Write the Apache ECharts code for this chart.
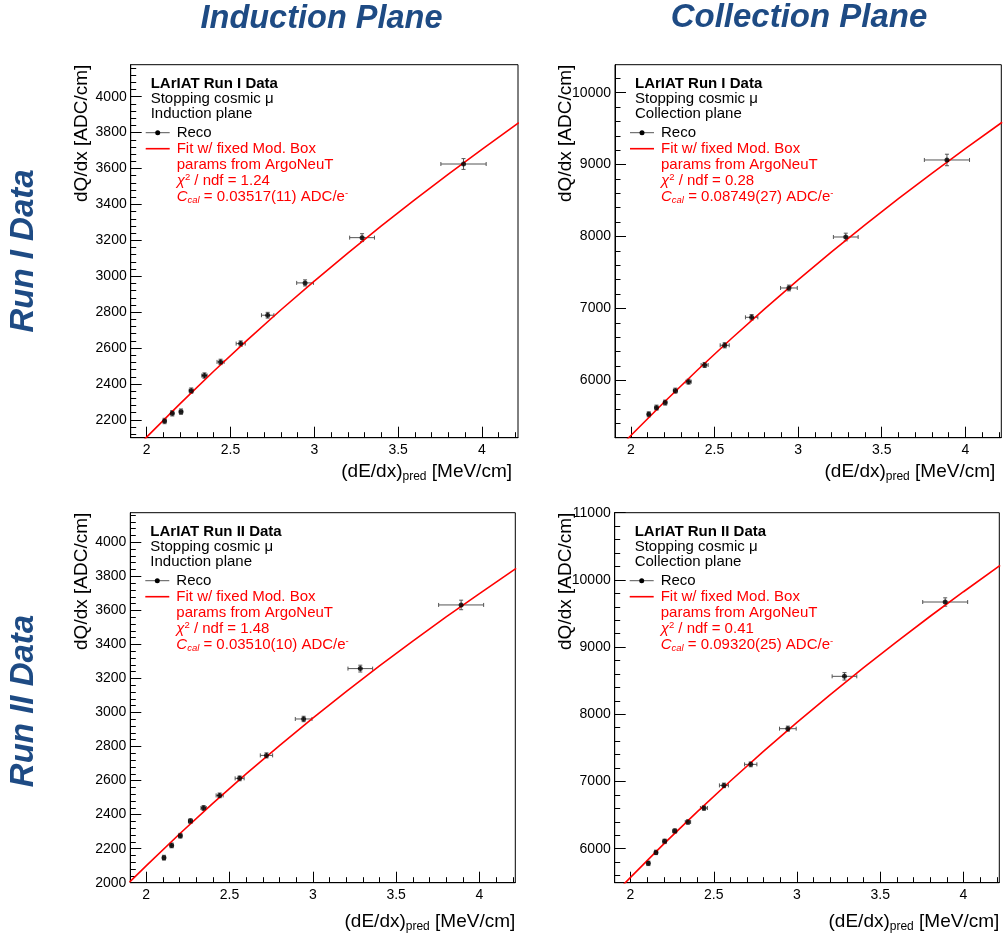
<!DOCTYPE html>
<html>
<head>
<meta charset="utf-8">
<script src="https://cdn.jsdelivr.net/npm/echarts@6/dist/echarts.min.js"></script>
<style>
html,body{margin:0;padding:0;background:#fff;}
#chart{width:1003px;height:940px;}
</style>
</head>
<body>
<div id="chart"></div>
<script>
// ---------------- DATA ----------------
const columnTitles = ['Induction Plane', 'Collection Plane'];
const rowTitles = ['Run I Data', 'Run II Data'];

// predicted dE/dx bin centres and horizontal errors (MeV/cm)
const dEdx    = [2.107, 2.153, 2.205, 2.266, 2.345, 2.441, 2.561, 2.722, 2.945, 3.285, 3.890];
const dEdxErr = [0.008, 0.009, 0.010, 0.012, 0.016, 0.021, 0.027, 0.037, 0.050, 0.074, 0.135];

// reconstructed dQ/dx (ADC/cm) and errors
const run1IndQ   = [2194, 2237, 2246, 2363, 2447, 2523, 2625, 2783, 2963, 3215, 3625];
const run1IndErr = [15, 15, 15, 15, 15, 15, 15, 16, 17, 22, 30];
const run1ColQ   = [5527, 5620, 5690, 5856, 5981, 6213, 6487, 6876, 7284, 7993, 9064];
const run1ColErr = [35, 35, 35, 35, 35, 35, 36, 38, 40, 53, 80];
const run2IndQ   = [2147, 2219, 2276, 2362, 2439, 2513, 2613, 2748, 2962, 3258, 3632];
const run2IndErr = [14, 14, 14, 14, 14, 14, 14, 15, 16, 20, 28];
const run2ColQ   = [5782, 5945, 6109, 6263, 6397, 6605, 6942, 7255, 7786, 8565, 9671];
const run2ColErr = [33, 33, 33, 33, 33, 33, 34, 36, 38, 55, 62];

// fit curves
const fitX       = [1.9, 2.0, 2.2, 2.4, 2.6, 2.8, 3.0, 3.2, 3.4, 3.6, 3.8, 4.0, 4.22];
const fitRun1Ind = [2007, 2104, 2291, 2471, 2644, 2812, 2973, 3129, 3281, 3427, 3569, 3707, 3855];
const fitRun1Col = [4993, 5233, 5699, 6147, 6578, 6994, 7396, 7785, 8161, 8526, 8879, 9223, 9589];
const fitRun2Ind = [2003, 2099, 2286, 2466, 2639, 2806, 2967, 3123, 3274, 3420, 3562, 3699, 3847];
const fitRun2Col = [5319, 5574, 6071, 6548, 7007, 7451, 7879, 8293, 8694, 9082, 9459, 9824, 10215];

// tick labels
const xTicks = [2, 2.5, 3, 3.5, 4];
const xMinorTicks = [2.0, 2.1, 2.2, 2.3, 2.4, 2.5, 2.6, 2.7, 2.8, 2.9, 3.0, 3.1, 3.2, 3.3, 3.4, 3.5, 3.6, 3.7, 3.8, 3.9, 4.0, 4.1, 4.2];
const yTicksRun1Ind = [2200, 2400, 2600, 2800, 3000, 3200, 3400, 3600, 3800, 4000];
const yTicksRun2Ind = [2000, 2200, 2400, 2600, 2800, 3000, 3200, 3400, 3600, 3800, 4000];
const yTicksRun1Col = [6000, 7000, 8000, 9000, 10000];
const yTicksRun2Col = [6000, 7000, 8000, 9000, 10000, 11000];

// legend texts
const runLabels = ['LArIAT Run I Data', 'LArIAT Run II Data'];
const planeLabels = ['Induction plane', 'Collection plane'];
const chi2Values = ['1.24', '0.28', '1.48', '0.41'];
const ccalValues = ['0.03517(11)', '0.08749(27)', '0.03510(10)', '0.09320(25)'];

// ---------------- LAYOUT / STYLE ----------------
const FONT = '"Liberation Sans", Arial, Helvetica, sans-serif';
const RED = '#ff0000';
const BLUE = '#1e4b84';

function minorList(min, max, step) {
  const out = [];
  for (let k = Math.ceil(min / step); k * step <= max; k++) out.push(Math.round(k * step * 1000) / 1000);
  return out;
}

const panels = [
  { grid: {left: 130.7, top: 64.7, width: 387.3, height: 373}, yr: [2101, 4178], yTicks: yTicksRun1Ind, yMinorStep: 40,
    q: run1IndQ, qe: run1IndErr, fit: fitRun1Ind, run: runLabels[0], plane: planeLabels[0], chi: chi2Values[0], ccal: ccalValues[0], xNamePad: [23, 6, 0, 0] },
  { grid: {left: 615, top: 64.7, width: 386.3, height: 373}, yr: [5202, 10389], yTicks: yTicksRun1Col, yMinorStep: 200,
    q: run1ColQ, qe: run1ColErr, fit: fitRun1Col, run: runLabels[0], plane: planeLabels[1], chi: chi2Values[1], ccal: ccalValues[1], xNamePad: [23, 6, 0, 0] },
  { grid: {left: 130.3, top: 512.7, width: 385, height: 370}, yr: [2000, 4174], yTicks: yTicksRun2Ind, yMinorStep: 40,
    q: run2IndQ, qe: run2IndErr, fit: fitRun2Ind, run: runLabels[1], plane: planeLabels[0], chi: chi2Values[2], ccal: ccalValues[2], xNamePad: [28, 0, 0, 0] },
  { grid: {left: 614.7, top: 512.7, width: 384.6, height: 370}, yr: [5494, 11000], yTicks: yTicksRun2Col, yMinorStep: 200,
    q: run2ColQ, qe: run2ColErr, fit: fitRun2Col, run: runLabels[1], plane: planeLabels[1], chi: chi2Values[3], ccal: ccalValues[3], xNamePad: [28, 0, 0, 0] }
];
const X_MIN = 1.905, X_MAX = 4.215;

const grids = [], xAxes = [], yAxes = [], series = [], graphics = [];

panels.forEach((p, i) => {
  grids.push(Object.assign({show: true, borderColor: '#000', borderWidth: 1, backgroundColor: 'transparent', containLabel: false, outerBoundsMode: 'none'}, p.grid));
});

// main axes
panels.forEach((p, i) => {
  xAxes.push({
    type: 'value', gridIndex: i, position: 'bottom', min: X_MIN, max: X_MAX,
    axisLine: {show: true, onZero: false, lineStyle: {color: '#000', width: 1}},
    axisTick: {show: true, inside: true, length: 11, customValues: xTicks, lineStyle: {color: '#000', width: 1}},
    axisLabel: {show: true, customValues: xTicks, margin: 5, fontSize: 14, fontFamily: FONT, color: '#000',
      formatter: v => String(Math.round(v * 10) / 10)},
    splitLine: {show: false},
    name: '{n|(dE/dx)}{s|pred}{n| [MeV/cm]}',
    nameLocation: 'end', nameGap: 0, nameMoveOverlap: false,
    nameTextStyle: {align: 'right', verticalAlign: 'top', padding: p.xNamePad, color: '#000',
      rich: {n: {fontSize: 19, lineHeight: 22, fontFamily: FONT, color: '#000'},
             s: {fontSize: 12, lineHeight: 12, verticalAlign: 'bottom', fontFamily: FONT, color: '#000'}}}
  });
  yAxes.push({
    type: 'value', gridIndex: i, position: 'left', min: p.yr[0], max: p.yr[1],
    axisLine: {show: true, onZero: false, lineStyle: {color: '#000', width: 1}},
    axisTick: {show: true, inside: true, length: 11, customValues: p.yTicks, lineStyle: {color: '#000', width: 1}},
    axisLabel: {show: true, customValues: p.yTicks, margin: 4, fontSize: 14, fontFamily: FONT, color: '#000',
      formatter: v => String(Math.round(v))},
    splitLine: {show: false},
    name: 'dQ/dx [ADC/cm]', nameLocation: 'end', nameGap: 0, nameRotate: 90, nameMoveOverlap: false,
    nameTextStyle: {fontSize: 19, lineHeight: 20, fontFamily: FONT, color: '#000', align: 'right', verticalAlign: 'bottom', padding: [0, 0, 39, 0]}
  });
});
// minor-tick overlay axes
panels.forEach((p, i) => {
  xAxes.push({
    type: 'value', gridIndex: i, position: 'bottom', min: X_MIN, max: X_MAX,
    axisLine: {show: false}, axisLabel: {show: false}, splitLine: {show: false},
    axisTick: {show: true, inside: true, length: 5.5, customValues: xMinorTicks, lineStyle: {color: '#000', width: 1}}
  });
  yAxes.push({
    type: 'value', gridIndex: i, position: 'left', min: p.yr[0], max: p.yr[1],
    axisLine: {show: false}, axisLabel: {show: false}, splitLine: {show: false},
    axisTick: {show: true, inside: true, length: 5.5, customValues: minorList(p.yr[0], p.yr[1], p.yMinorStep), lineStyle: {color: '#000', width: 1}}
  });
});

function errRender(params, api) {
  const x = api.value(0), y = api.value(1), ex = api.value(2), ey = api.value(3);
  const l = api.coord([x - ex, y]), r = api.coord([x + ex, y]);
  const b = api.coord([x, y - ey]), t = api.coord([x, y + ey]);
  const st = {stroke: '#555', lineWidth: 1};
  const c = 2;
  return {type: 'group', children: [
    {type: 'line', shape: {x1: l[0], y1: l[1], x2: r[0], y2: r[1]}, style: st},
    {type: 'line', shape: {x1: l[0], y1: l[1] - c, x2: l[0], y2: l[1] + c}, style: st},
    {type: 'line', shape: {x1: r[0], y1: r[1] - c, x2: r[0], y2: r[1] + c}, style: st},
    {type: 'line', shape: {x1: b[0], y1: b[1], x2: t[0], y2: t[1]}, style: st},
    {type: 'line', shape: {x1: b[0] - c, y1: b[1], x2: b[0] + c, y2: b[1]}, style: st},
    {type: 'line', shape: {x1: t[0] - c, y1: t[1], x2: t[0] + c, y2: t[1]}, style: st}
  ]};
}

panels.forEach((p, i) => {
  series.push({
    type: 'custom', name: 'Reco errors', xAxisIndex: i, yAxisIndex: i, renderItem: errRender,
    dimensions: ['x', 'y', 'ex', 'ey'], encode: {x: 0, y: 1},
    data: dEdx.map((x, k) => [x, p.q[k], dEdxErr[k], p.qe[k]]), z: 2, silent: true
  });
  series.push({
    type: 'line', name: 'Fit w/ fixed Mod. Box', xAxisIndex: i, yAxisIndex: i,
    data: fitX.map((x, k) => [x, p.fit[k]]), showSymbol: false, smooth: false, clip: true,
    lineStyle: {color: RED, width: 1.6}, itemStyle: {color: RED}, z: 3, silent: true
  });
  series.push({
    type: 'scatter', name: 'Reco', xAxisIndex: i, yAxisIndex: i,
    data: dEdx.map((x, k) => [x, p.q[k]]), symbol: 'circle', symbolSize: 5,
    itemStyle: {color: '#000'}, z: 4, silent: true
  });
});

// legend boxes
function txt(x, y, text, extra) {
  return {type: 'text', x: x, y: y, silent: true,
    style: Object.assign({text: text, fill: '#000', align: 'left', verticalAlign: 'middle', fontFamily: FONT, fontSize: 15}, extra || {})};
}
panels.forEach((p, i) => {
  const L = p.grid.left, T = p.grid.top;
  const richRed = {
    n: {fontSize: 15, lineHeight: 17, fontFamily: FONT, fill: RED, color: RED},
    i: {fontSize: 15, lineHeight: 17, fontFamily: FONT, fontStyle: 'italic', fill: RED, color: RED},
    sup: {fontSize: 9.5, lineHeight: 9, verticalAlign: 'top', fontFamily: FONT, fill: RED, color: RED},
    sub: {fontSize: 9.5, lineHeight: 9, verticalAlign: 'bottom', fontFamily: FONT, fontStyle: 'italic', fill: RED, color: RED}
  };
  graphics.push(
    txt(L + 20, T + 19, p.run, {fontWeight: 'bold', fontSize: 15}),
    txt(L + 20, T + 34, 'Stopping cosmic μ'),
    txt(L + 20, T + 49, p.plane),
    {type: 'line', silent: true, shape: {x1: L + 15, y1: T + 68, x2: L + 39, y2: T + 68}, style: {stroke: '#555', lineWidth: 1}},
    {type: 'circle', silent: true, shape: {cx: L + 27, cy: T + 68, r: 2.5}, style: {fill: '#000'}},
    txt(L + 46, T + 68, 'Reco'),
    {type: 'line', silent: true, shape: {x1: L + 15, y1: T + 84, x2: L + 39, y2: T + 84}, style: {stroke: RED, lineWidth: 1.6}},
    txt(L + 46, T + 84, 'Fit w/ fixed Mod. Box', {fill: RED}),
    txt(L + 46, T + 100, 'params from ArgoNeuT', {fill: RED}),
    txt(L + 46, T + 116, '{i|χ}{sup|2}{n| / ndf = ' + p.chi + '}', {fill: RED, rich: richRed}),
    txt(L + 46, T + 132, '{i|C}{sub|cal}{n| = ' + p.ccal + ' ADC/e}{sup|-}', {fill: RED, rich: richRed})
  );
});

// column & row titles
graphics.push(
  {type: 'text', x: 321.5, y: 19, silent: true, style: {text: columnTitles[0], align: 'center', verticalAlign: 'middle', fontFamily: FONT, fontSize: 32.5, fontWeight: 'bold', fontStyle: 'italic', fill: BLUE}},
  {type: 'text', x: 799, y: 18, silent: true, style: {text: columnTitles[1], align: 'center', verticalAlign: 'middle', fontFamily: FONT, fontSize: 33, fontWeight: 'bold', fontStyle: 'italic', fill: BLUE}},
  {type: 'text', x: 24, y: 251, rotation: Math.PI / 2, silent: true, style: {text: rowTitles[0], align: 'center', verticalAlign: 'middle', fontFamily: FONT, fontSize: 33, fontWeight: 'bold', fontStyle: 'italic', fill: BLUE}},
  {type: 'text', x: 24, y: 701, rotation: Math.PI / 2, silent: true, style: {text: rowTitles[1], align: 'center', verticalAlign: 'middle', fontFamily: FONT, fontSize: 33, fontWeight: 'bold', fontStyle: 'italic', fill: BLUE}}
);

const chart = echarts.init(document.getElementById('chart'), null, {renderer: 'canvas'});
chart.setOption({
  animation: false,
  backgroundColor: '#fff',
  grid: grids,
  xAxis: xAxes,
  yAxis: yAxes,
  series: series,
  graphic: graphics
});
</script>
</body>
</html>
